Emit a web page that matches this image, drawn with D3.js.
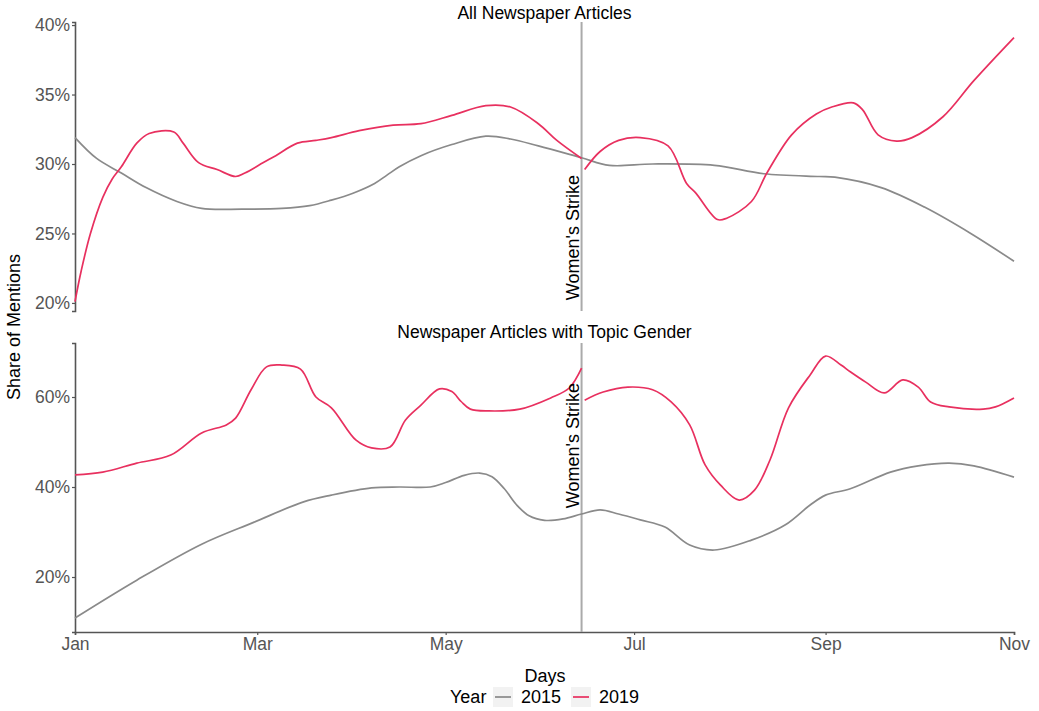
<!DOCTYPE html>
<html>
<head>
<meta charset="utf-8">
<script src="https://cdn.jsdelivr.net/npm/d3@7"></script>
<style>
  html, body { margin: 0; padding: 0; background: #fff; }
  svg { display: block; font-family: "Liberation Sans", Arial, Helvetica, sans-serif; }
</style>
</head>
<body>
<svg id="chart" width="1039" height="711"></svg>
<script>
// Share of mentions, smoothed, by day of year (0 = 1 January).
const panelTitles = ["All Newspaper Articles", "Newspaper Articles with Topic Gender"];
const years = ["2015", "2019"];
const strikeLabel = "Women's Strike";
const monthTicks = ["Jan", "Mar", "May", "Jul", "Sep", "Nov"];

// Panel 1: all newspaper articles
const all2015 = [[0,31.9],[7,30.4],[15,29.35],[23,28.3],[33,27.3],[41,26.8],[54,26.75],[67,26.8],[76,27.0],[83,27.4],
  [90,27.9],[97,28.6],[101,29.2],[105,29.8],[112,30.6],[122,31.4],[133,32.0],[141,31.8],[150,31.3],[164,30.45],[173,29.9],[187,30.0],
  [207,29.9],[223,29.3],[241,29.1],[246,29.05],[261,28.3],[275,26.9],[290,25.0],[304,23.0]];
const all2019Before = [[0,20.1],[2,22.3],[5,25.0],[9,27.6],[12,28.9],[15,29.8],[20,31.5],[24,32.2],[32,32.3],[35,31.5],[40,30.1],[46,29.6],
  [52,29.1],[55,29.35],[61,30.1],[65,30.6],[72,31.5],[78,31.7],[83,31.9],[92,32.4],[103,32.8],[112,32.9],[122,33.5],
  [133,34.2],[141,34.1],[150,32.9],[156,31.7],[164,30.4]];
const all2019After = [[165,29.6],[170,30.9],[176,31.7],[183,31.9],[192,31.3],[198,28.6],[201,27.9],[208,26.0],[211,26.1],
  [219,27.3],[224,29.35],[232,32.1],[240,33.6],[245,34.1],[252,34.4],[255,33.9],[260,32.1],[266,31.65],[271,31.9],
  [281,33.4],[291,36.0],[304,39.1]];

// Panel 2: articles with topic gender
const gender2015 = [[0,10.9],[20,19.3],[41,27.3],[58,32.2],[74,36.7],[83,38.2],[96,39.8],[105,40.0],[115,40.0],[120,41.0],
  [126,42.6],[131,43.1],[135,42.3],[139,39.6],[143,36.0],[147,33.6],[152,32.6],[158,32.9],[164,34.0],[170,34.9],[176,34.0],[183,32.7],
  [191,31.1],[199,27.1],[207,26.0],[219,28.2],[230,31.6],[238,36.0],[243,38.2],[251,39.6],[264,43.3],[273,44.7],
  [283,45.3],[291,44.7],[304,42.2]];
const gender2019Before = [[0,42.7],[9,43.3],[20,45.3],[31,47.1],[41,52.0],[49,53.8],[52,55.3],[57,61.6],[62,66.7],[67,67.1],
  [73,66.2],[78,60.0],[83,57.6],[91,50.4],[96,48.7],[102,48.9],[107,54.9],[112,58.2],[118,61.8],[122,61.2],[125,59.0],
  [128,57.3],[134,56.9],[144,57.3],[154,59.8],[160,62.0],[164,66.4]];
const gender2019After = [[165,59.3],[171,61.1],[179,62.2],[187,61.6],[193,58.9],[199,53.8],[204,44.9],[209,40.4],[215,37.1],
  [220,39.3],[225,46.0],[231,57.6],[238,64.9],[243,69.1],[248,67.1],[251,65.6],[256,63.3],[262,60.9],[268,63.8],
  [273,62.2],[277,58.9],[283,57.8],[294,57.3],[298,57.8],[304,59.8]];

const topTicks = [20, 25, 30, 35, 40];
const bottomTicks = [20, 40, 60];
const strikeDay = new Date(2019, 5, 14);
const strikeLabelY = [20.2, 35.3];

const colors = { "2015": "#8a8a8a", "2019": "#e8305f" };

const svg = d3.select("#chart");
const start = new Date(2019, 0, 1);
const toDate = d => d3.timeDay.offset(start, d);

const x = d3.scaleTime()
  .domain([new Date(2019, 0, 1), new Date(2019, 10, 1)])
  .range([75, 1014]);

const panels = [
  { title: panelTitles[0], y: d3.scaleLinear().domain([19.42, 40.22]).range([311, 22]), ticks: topTicks,
    series: [{ year: "2015", data: all2015 }, { year: "2019", data: all2019Before }, { year: "2019", data: all2019After }],
    titleY: 19, xAxis: false, labelAt: strikeLabelY[0] },
  { title: panelTitles[1], y: d3.scaleLinear().domain([7.78, 72]).range([632, 343]), ticks: bottomTicks,
    series: [{ year: "2015", data: gender2015 }, { year: "2019", data: gender2019Before }, { year: "2019", data: gender2019After }],
    titleY: 338, xAxis: true, labelAt: strikeLabelY[1] }
];

const fmtPct = d => d + "%";

panels.forEach(p => {
  const g = svg.append("g");
  const [y0, y1] = p.y.range();

  // panel title
  g.append("text")
    .attr("x", (x.range()[0] + x.range()[1]) / 2)
    .attr("y", p.titleY)
    .attr("text-anchor", "middle")
    .attr("font-size", 17.5)
    .attr("fill", "#000")
    .text(p.title);

  // y axis
  const yAxis = g.append("g")
    .attr("transform", `translate(${x.range()[0]},0)`)
    .call(d3.axisLeft(p.y).tickValues(p.ticks).tickFormat(fmtPct).tickSize(3).tickPadding(2));
  yAxis.select(".domain").attr("stroke", "#555").attr("stroke-width", 1.6);
  yAxis.selectAll(".tick line").attr("stroke", "#555").attr("stroke-width", 1.2);
  yAxis.selectAll(".tick text").attr("font-size", 17.5).attr("fill", "#555")
    .attr("font-family", "'Liberation Sans', Arial, sans-serif");

  // x axis (lower panel only)
  if (p.xAxis) {
    const xAxis = g.append("g")
      .attr("transform", `translate(0,${y0})`)
      .call(d3.axisBottom(x).ticks(d3.timeMonth.every(2)).tickFormat((d, i) => monthTicks[i]).tickSize(3).tickPadding(3));
    xAxis.select(".domain").attr("stroke", "#555").attr("stroke-width", 1.6);
    xAxis.selectAll(".tick line").attr("stroke", "#555").attr("stroke-width", 1.2);
    xAxis.selectAll(".tick text").attr("font-size", 17.5).attr("fill", "#555")
      .attr("font-family", "'Liberation Sans', Arial, sans-serif");
  }

  // strike marker
  const sx = x(strikeDay);
  g.append("line")
    .attr("x1", sx).attr("x2", sx)
    .attr("y1", y1).attr("y2", y0)
    .attr("stroke", "#aaaaaa").attr("stroke-width", 2);

  // series
  const line = d3.line()
    .x(d => x(toDate(d[0])))
    .y(d => p.y(d[1]))
    .curve(d3.curveCatmullRom.alpha(0.5));
  p.series.forEach(s => {
    g.append("path")
      .datum(s.data)
      .attr("d", line)
      .attr("fill", "none")
      .attr("stroke", colors[s.year])
      .attr("stroke-width", 1.7);
  });

  // strike label
  g.append("text")
    .attr("transform", `translate(${sx - 3},${p.y(p.labelAt)}) rotate(-90)`)
    .attr("font-size", 18)
    .attr("fill", "#000")
    .text(strikeLabel);
});

// y axis title
svg.append("text")
  .attr("transform", `translate(20,327) rotate(-90)`)
  .attr("text-anchor", "middle")
  .attr("font-size", 18)
  .attr("fill", "#000")
  .text("Share of Mentions");

// x axis title
svg.append("text")
  .attr("x", 545)
  .attr("y", 682)
  .attr("text-anchor", "middle")
  .attr("font-size", 18)
  .attr("fill", "#000")
  .text("Days");

// legend
const legend = svg.append("g");
legend.append("text")
  .attr("x", 450).attr("y", 703)
  .attr("font-size", 18).attr("fill", "#000")
  .text("Year");
const keyX = [493, 571];
years.forEach((yr, i) => {
  legend.append("rect")
    .attr("x", keyX[i]).attr("y", 687).attr("width", 20).attr("height", 20)
    .attr("fill", "#f2f2f2");
  legend.append("line")
    .attr("x1", keyX[i] + 2).attr("x2", keyX[i] + 18)
    .attr("y1", 697).attr("y2", 697)
    .attr("stroke", colors[yr]).attr("stroke-width", 1.7);
  legend.append("text")
    .attr("x", keyX[i] + 28).attr("y", 703)
    .attr("font-size", 18).attr("fill", "#000")
    .text(yr);
});
</script>
</body>
</html>
